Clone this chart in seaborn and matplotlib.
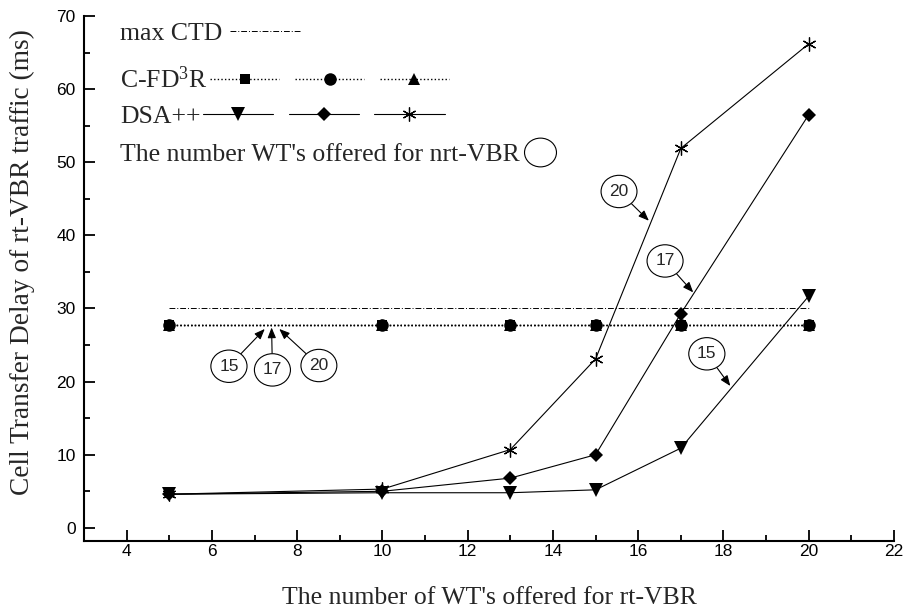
import numpy as np
import pandas as pd
import matplotlib
matplotlib.use("Agg")
import matplotlib.pyplot as plt
import seaborn as sns
from matplotlib.lines import Line2D
from matplotlib.legend_handler import HandlerTuple
from matplotlib.path import Path
from matplotlib.transforms import Affine2D
from matplotlib.ticker import MultipleLocator

# ---------------- data ----------------
x_wt = [5, 10, 13, 15, 17, 20]
max_ctd_x = [5, 20]
max_ctd_y = [30, 30]
cfd3r_15 = [27.8, 27.8, 27.8, 27.8, 27.8, 27.8]
cfd3r_17 = [27.8, 27.8, 27.8, 27.8, 27.8, 27.8]
cfd3r_20 = [27.8, 27.8, 27.8, 27.8, 27.8, 27.8]
dsa_15 = [4.6, 4.8, 4.8, 5.2, 10.9, 31.7]
dsa_17 = [4.6, 5.0, 6.8, 10.0, 29.3, 56.5]
dsa_20 = [4.6, 5.3, 10.7, 23.1, 51.9, 66.2]
x_ticks = [4, 6, 8, 10, 12, 14, 16, 18, 20, 22]
y_ticks = [0, 10, 20, 30, 40, 50, 60, 70]

ann_labels = ["15", "17", "20", "20", "17", "15"]
ann_text_xy = [(6.40, 22.1), (7.42, 21.6), (8.51, 22.2),
               (15.55, 46.0), (16.63, 36.5), (17.61, 23.8)]
ann_tip_xy = [(7.24, 27.2), (7.40, 27.4), (7.58, 27.2),
              (16.25, 42.0), (17.29, 32.2), (18.16, 19.4)]

legend_labels = ["max CTD", r"C-FD$^{\mathrm{3}}$R", "DSA++",
                 "The number WT's offered for nrt-VBR"]

# ---------------- style ----------------
sns.set_style("ticks")
plt.rcParams["font.family"] = ["Liberation Serif", "DejaVu Serif"]
plt.rcParams["mathtext.fontset"] = "custom"
plt.rcParams["mathtext.rm"] = "Liberation Serif"
plt.rcParams["mathtext.it"] = "Liberation Serif:italic"
plt.rcParams["mathtext.bf"] = "Liberation Serif:bold"
tick_family = ["Liberation Sans", "DejaVu Sans"]

fig = plt.figure(figsize=(9.07, 6.15), dpi=100)
ax = fig.add_axes([84 / 907, 1 - 541 / 615, 810 / 907, 525 / 615])

# max CTD line
sns.lineplot(x=max_ctd_x, y=max_ctd_y, ax=ax, color="k", lw=0.7,
             linestyle=(0, (6, 2, 1, 2)), legend=False)

# C-FD3R
dot_ls = (0, (1, 1.6))
for vals, mk, ms in [(cfd3r_15, "s", 7.5), (cfd3r_17, "o", 9), (cfd3r_20, "^", 9)]:
    sns.lineplot(x=x_wt, y=vals, ax=ax, color="k", lw=1.0, linestyle=dot_ls,
                 marker=mk, markersize=ms, markeredgewidth=0, legend=False)

# DSA++
star = (6, 2, 0)
for vals, mk, ms, mew in [(dsa_15, "v", 9.5, 0), (dsa_17, "D", 7.5, 0), (dsa_20, star, 10, 0.9)]:
    sns.lineplot(x=x_wt, y=vals, ax=ax, color="k", lw=0.8, linestyle="-",
                 marker=mk, markersize=ms, markeredgewidth=mew,
                 markeredgecolor="k", legend=False)

# axes
ax.set_xlim(3, 22)
ax.set_ylim(-1.8, 70)
ax.set_xticks(x_ticks)
ax.set_yticks(y_ticks)
ax.xaxis.set_minor_locator(MultipleLocator(1))
ax.yaxis.set_minor_locator(MultipleLocator(5))
for s in ["top", "right"]:
    ax.spines[s].set_visible(False)
for s in ["left", "bottom"]:
    ax.spines[s].set_linewidth(1.5)
    ax.spines[s].set_color("k")
ax.tick_params(which="both", direction="in", color="k", width=1.3)
ax.tick_params(which="major", length=8)
ax.tick_params(which="minor", length=4.5)
ax.tick_params(axis="x", which="major", pad=2.5, labelsize=12.5, labelcolor="k")
ax.tick_params(axis="y", which="major", pad=6, labelsize=12.5, labelcolor="k")
for lab in ax.get_xticklabels() + ax.get_yticklabels():
    lab.set_fontfamily(tick_family)

ax.set_xlabel("The number of WT's offered for rt-VBR", fontsize=18.5, labelpad=20)
ax.set_ylabel("Cell Transfer Delay of rt-VBR traffic (ms)", fontsize=19.7)
ax.yaxis.set_label_coords(-0.060, 0.531)


# ---------------- annotations ----------------
def ellipse_box(x0, y0, width, height, mutation_size):
    cx, cy = x0 + width / 2, y0 + height / 2
    rx = width / 2 + 0.48 * mutation_size
    ry = height / 2 + 0.50 * mutation_size
    circ = Path.unit_circle()
    return Path(circ.vertices * [rx, ry] + [cx, cy], circ.codes)


for lab, txy, tip in zip(ann_labels, ann_text_xy, ann_tip_xy):
    ax.annotate(lab, xy=tip, xytext=txy, ha="center", va="center",
                fontsize=12.5, fontfamily=tick_family,
                bbox=dict(boxstyle=ellipse_box, fc="white", ec="k", lw=0.8),
                arrowprops=dict(arrowstyle="-|>,head_length=0.5,head_width=0.2",
                                color="k", lw=0.8, shrinkA=0, shrinkB=0))

# ---------------- legend ----------------
leg_fs = 18.5
h_ctd = Line2D([], [], color="k", lw=0.7, linestyle=(0, (6, 2, 1, 2)))
h_cfd = tuple(Line2D([], [], color="k", lw=1.0, linestyle=dot_ls, marker=m,
                     markersize=s, markeredgewidth=0)
              for m, s in [("s", 7.5), ("o", 9), ("^", 9)])
h_dsa = tuple(Line2D([], [], color="k", lw=0.8, linestyle="-", marker=m,
                     markersize=s, markeredgewidth=w, markeredgecolor="k")
              for m, s, w in [("v", 9.5, 0), ("D", 7.5, 0), (star, 10, 0.9)])
ell = Path.unit_circle().transformed(Affine2D().scale(1.0, 0.9))
h_num = Line2D([], [], linestyle="none", marker=ell, markersize=23,
               markerfacecolor="white", markeredgecolor="k", markeredgewidth=0.8)

rows = [
    (h_ctd, legend_labels[0], 0.9660, 2.76, 0.3),
    (h_cfd, legend_labels[1], 0.8780, 9.3, 0.1),
    (h_dsa, legend_labels[2], 0.8080, 9.4, 0.1),
    (h_num, legend_labels[3], 0.7370, 1.25, 0.18),
]
legs = []
for h, lab, yy, hl, tp in rows:
    lg = ax.legend([h], [lab], loc="center left", bbox_to_anchor=(0.0444, yy),
                   bbox_transform=ax.transAxes, frameon=False, markerfirst=False,
                   handlelength=hl, handletextpad=tp, borderpad=0, borderaxespad=0,
                   numpoints=1, fontsize=leg_fs,
                   handler_map={tuple: HandlerTuple(ndivide=None, pad=0.6)})
    legs.append(lg)
for lg in legs[:-1]:
    ax.add_artist(lg)

fig.savefig("out.png", dpi=100, facecolor="white")
